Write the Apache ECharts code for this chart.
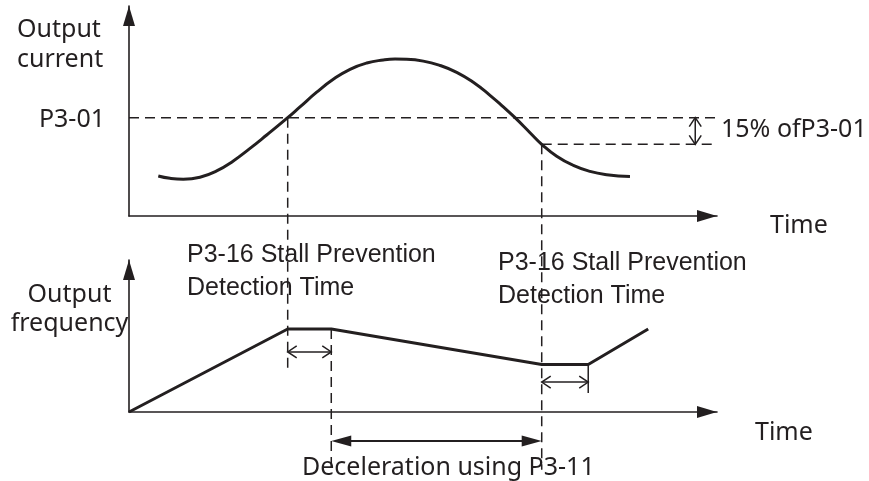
<!DOCTYPE html>
<html><head><meta charset="utf-8">
<script src="https://cdn.jsdelivr.net/npm/echarts@6/dist/echarts.min.js"></script>
<style>html,body{margin:0;padding:0;background:#fff}#c{width:869px;height:481px}</style>
</head><body><div id="c"></div>
<script>
// ---- data (arbitrary units: time 0-100, current 0-100, frequency 0-100) ----
const currentTime  = [4.98, 6.97, 9.23, 12.07, 14.91, 17.74, 20.58, 23.42, 26.99, 29.08, 31.92, 34.74, 37.59, 40.43, 43.25, 45.24,
                      47.23, 50.05, 52.89, 55.73, 58.55, 61.39, 63.66, 65.65, 68.2, 70.19, 72.74, 75.56, 78.4, 81.24, 85.2];
const currentValue = [19.05, 17.95, 17.52, 18.48, 21.48, 26.24, 32.19, 38.57, 46.81, 51.95, 58.95, 65.1, 69.86, 72.86, 74.29, 74.71,
                      74.62, 73.76, 71.67, 68.43, 63.67, 57.48, 51.95, 46.81, 39.67, 34.14, 28.43, 24.1, 21.24, 19.67, 18.76];
const freqTime  = [0, 26.99, 34.4, 70.19, 78.1, 88.3];
const freqValue = [0, 54.6, 54.6, 31.3, 31.3, 54.6];
const levelNames  = ['P3-01', '85% of P3-01'];
const levelValues = [46.81, 34.14];
const eventTimes  = [26.99, 34.4, 70.19, 78.1]; // stall detect 1, end detect 1, stall detect 2, end detect 2
const labels = {
  yTop: ['Output', 'current'], yBottom: ['Output', 'frequency'], x: 'Time',
  level: 'P3-01', band: '15% ofP3-01',
  detect: ['P3-16 Stall Prevention', 'Detection Time'],
  decel: 'Deceleration using P3-11'
};

// ---- chart ----
const INK = '#231f20';
const chart = echarts.init(document.getElementById('c'));
function axis(gridIndex) {
  return {
    type: 'value', gridIndex, min: 0, max: 100,
    axisLabel: { show: false }, axisTick: { show: false }, splitLine: { show: false },
    axisLine: { show: true, onZero: false, symbol: ['none', 'triangle'], symbolSize: [12, 20], symbolOffset: [0, -10],
      lineStyle: { color: INK, width: 1.6 } }
  };
}
const dashed = { color: INK, width: 1.5, type: [10, 6] };
chart.setOption({
  animation: false,
  grid: [
    { left: 129, top: 6, width: 588, height: 210, outerBoundsMode: 'none' },
    { left: 129, top: 260, width: 588, height: 152, outerBoundsMode: 'none' }
  ],
  xAxis: [axis(0), axis(1)],
  yAxis: [axis(0), axis(1)],
  series: [
    { type: 'line', xAxisIndex: 0, yAxisIndex: 0, smooth: 0.5, showSymbol: false, z: 5,
      data: currentTime.map((t, i) => [t, currentValue[i]]), lineStyle: { color: INK, width: 3 } },
    { type: 'line', xAxisIndex: 1, yAxisIndex: 1, showSymbol: false, z: 5,
      data: freqTime.map((t, i) => [t, freqValue[i]]), lineStyle: { color: INK, width: 3 } },
    { type: 'line', xAxisIndex: 0, yAxisIndex: 0, showSymbol: false, clip: false,
      data: [[0, levelValues[0]], [100, levelValues[0]]], lineStyle: dashed },
    { type: 'line', xAxisIndex: 0, yAxisIndex: 0, showSymbol: false, clip: false,
      data: [[eventTimes[2], levelValues[1]], [100, levelValues[1]]], lineStyle: dashed }
  ]
});

// ---- annotations placed through the chart's own scales ----
const P0 = (t, v) => chart.convertToPixel({ gridIndex: 0 }, [t, v]);
const P1 = (t, v) => chart.convertToPixel({ gridIndex: 1 }, [t, v]);
const g = [];
function seg(a, b, style) {
  g.push({ type: 'line', z: 20, shape: { x1: a[0], y1: a[1], x2: b[0], y2: b[1] },
    style: Object.assign({ stroke: INK, lineWidth: 1.5 }, style || {}) });
}
function chevron(pts) {
  g.push({ type: 'polyline', z: 20, shape: { points: pts }, style: { stroke: INK, lineWidth: 1.5, fill: null } });
}
function tri(pts) {
  g.push({ type: 'polygon', z: 20, shape: { points: pts }, style: { fill: INK } });
}
const DASH = { lineDash: [10, 6] };
// vertical connectors
seg(P0(eventTimes[0], levelValues[0]), P1(eventTimes[0], 27.6), DASH);
seg(P1(eventTimes[1], freqValue[2]), P1(eventTimes[1], -38), DASH);
seg(P0(eventTimes[2], levelValues[1]), P1(eventTimes[2], -38), DASH);
// 15% band arrow (vertical, open heads)
{
  const a = P0(96.3, levelValues[0]), b = P0(96.3, levelValues[1]);
  seg(a, b);
  chevron([[a[0] - 6, a[1] + 9], [a[0], a[1]], [a[0] + 6, a[1] + 9]]);
  chevron([[b[0] - 6, b[1] - 9], [b[0], b[1]], [b[0] + 6, b[1] - 9]]);
}
// detection time arrows (horizontal, open heads)
function hOpen(t1, t2, f) {
  const a = P1(t1, f), b = P1(t2, f);
  seg(a, b);
  chevron([[a[0] + 9, a[1] - 6], [a[0], a[1]], [a[0] + 9, a[1] + 6]]);
  chevron([[b[0] - 9, b[1] - 6], [b[0], b[1]], [b[0] - 9, b[1] + 6]]);
}
hOpen(eventTimes[0], eventTimes[1], 39.5);
hOpen(eventTimes[2], eventTimes[3], 19.7);
seg(P1(eventTimes[3], freqValue[4]), P1(eventTimes[3], 12.5));
// deceleration arrow (filled heads)
{
  const a = P1(eventTimes[1], -19.1), b = P1(eventTimes[2], -19.1);
  seg([a[0] + 10, a[1]], [b[0] - 10, b[1]], { lineWidth: 2 });
  tri([[a[0], a[1]], [a[0] + 20, a[1] - 5.5], [a[0] + 20, a[1] + 5.5]]);
  tri([[b[0], b[1]], [b[0] - 20, b[1] - 5.5], [b[0] - 20, b[1] + 5.5]]);
}
// texts
const NOTO = '25px "Noto Sans"', LIB = '25px "Liberation Sans"';
function txt(s, x, y, font, align) {
  g.push({ type: 'text', z: 30, x, y, style: { text: s, font, fill: INK, align: align || 'left', verticalAlign: 'middle' } });
}
txt(labels.yTop[0], 17, 30, NOTO);
txt(labels.yTop[1], 17, 60, NOTO);
txt(labels.level, 105, 120, NOTO, 'right');
txt(labels.band, 721, 130, NOTO);
txt(labels.x, 770, 226, NOTO);
txt(labels.yBottom[0], 69.5, 295, NOTO, 'center');
txt(labels.yBottom[1], 69.5, 324, NOTO, 'center');
txt(labels.x, 755, 433, NOTO);
txt(labels.decel, 302, 468, NOTO);
txt(labels.detect[0], 187, 255, LIB);
txt(labels.detect[1], 187, 288, LIB);
txt(labels.detect[0], 498, 263, LIB);
txt(labels.detect[1], 498, 296, LIB);
chart.setOption({ graphic: { elements: g } });
</script>
</body></html>
